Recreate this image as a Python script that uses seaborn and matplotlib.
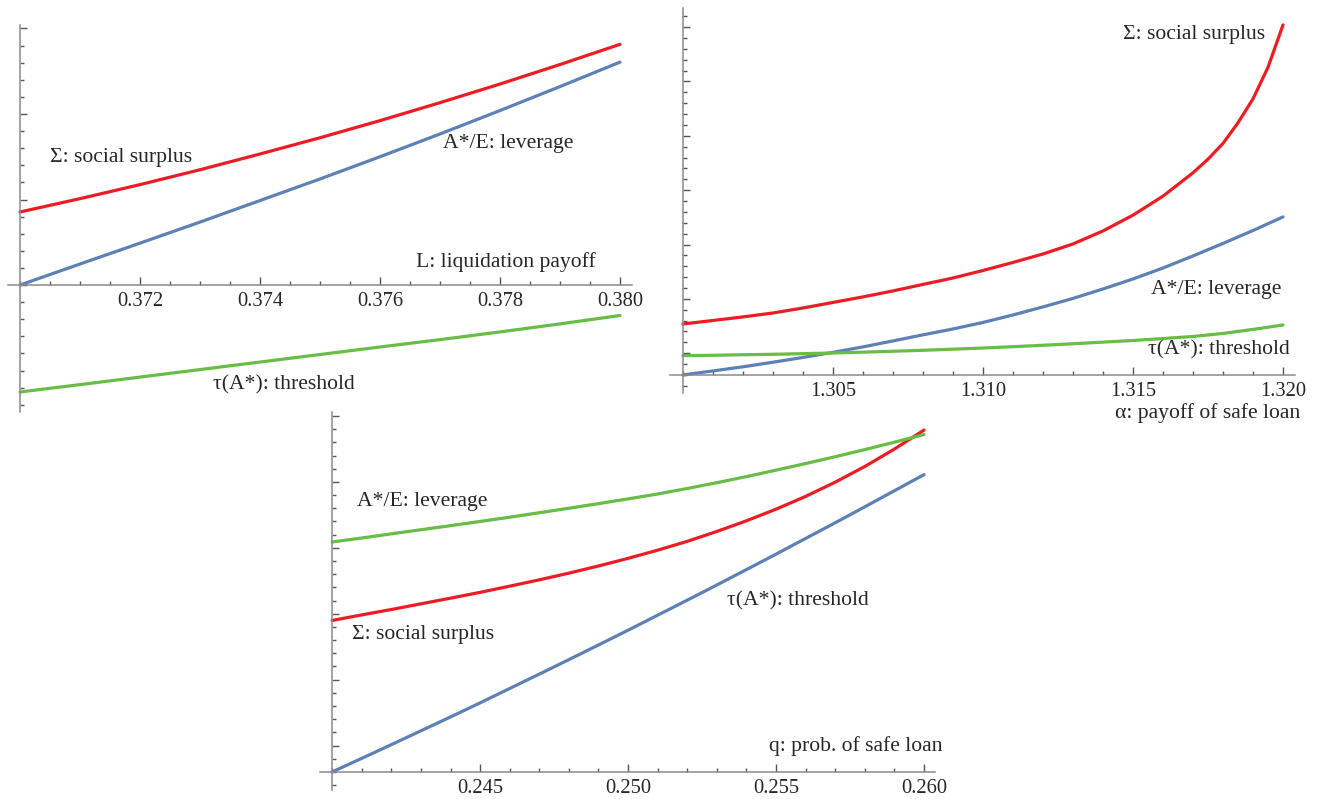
import numpy as np
import pandas as pd
import seaborn as sns
import matplotlib.pyplot as plt
from matplotlib.ticker import FixedLocator, FormatStrFormatter, MultipleLocator

# ----------- Data (y in units of one minor tick, axis crossing = 0) ---------------------

# panel 1: L, liquidation payoff
liq_x = [0.370, 0.371, 0.372, 0.373, 0.374, 0.375, 0.376, 0.377, 0.378, 0.379, 0.380]
liq_surplus = [4.27, 5.05, 5.87, 6.74, 7.66, 8.61, 9.61, 10.66, 11.75, 12.89, 14.07]
liq_leverage = [0.00, 1.23, 2.45, 3.68, 4.94, 6.20, 7.50, 8.83, 10.20, 11.60, 13.03]
liq_threshold = [-6.25, -5.82, -5.38, -4.94, -4.50, -4.06, -3.62, -3.19, -2.74, -2.27, -1.78]

# panel 2: alpha, payoff of safe loan
alpha_x = [1.300, 1.301, 1.302, 1.303, 1.304, 1.305, 1.306, 1.307, 1.308, 1.309, 1.310,
           1.311, 1.312, 1.313, 1.314, 1.315, 1.316, 1.317, 1.318, 1.319, 1.320]
alpha_leverage = [0.00, 0.37, 0.75, 1.17, 1.61, 2.08, 2.58, 3.13, 3.69, 4.23, 4.83,
                  5.52, 6.26, 7.04, 7.91, 8.83, 9.84, 10.95, 12.10, 13.29, 14.54]
alpha_threshold = [1.78, 1.81, 1.86, 1.90, 1.96, 2.02, 2.10, 2.18, 2.27, 2.37, 2.48,
                   2.60, 2.73, 2.87, 3.02, 3.17, 3.35, 3.54, 3.82, 4.19, 4.60]
# surplus blows up near 1.320, read at finer steps there
alpha_x_surplus = [1.300, 1.301, 1.302, 1.303, 1.304, 1.305, 1.306, 1.307, 1.308, 1.309, 1.310,
                   1.311, 1.312, 1.313, 1.314, 1.315, 1.316, 1.317, 1.3175, 1.318, 1.3185,
                   1.319, 1.3195, 1.320]
alpha_surplus = [4.69, 5.01, 5.34, 5.70, 6.16, 6.67, 7.18, 7.73, 8.33, 8.92, 9.61,
                 10.35, 11.13, 12.05, 13.25, 14.70, 16.45, 18.60, 19.85, 21.30, 23.20,
                 25.40, 28.30, 32.20]

# panel 3: q, prob. of safe loan
q_x = [0.240, 0.241, 0.242, 0.243, 0.244, 0.245, 0.246, 0.247, 0.248, 0.249, 0.250,
       0.251, 0.252, 0.253, 0.254, 0.255, 0.256, 0.257, 0.258, 0.259, 0.260]
q_blue = [0.00, 1.03, 2.07, 3.12, 4.17, 5.24, 6.33, 7.42, 8.52, 9.63, 10.75,
          11.89, 13.03, 14.18, 15.35, 16.52, 17.71, 18.90, 20.11, 21.33, 22.55]
q_red = [11.49, 11.91, 12.32, 12.75, 13.18, 13.62, 14.09, 14.57, 15.08, 15.62, 16.20,
         16.82, 17.49, 18.24, 19.05, 19.93, 20.90, 21.98, 23.17, 24.49, 25.93]
q_green = [17.44, 17.74, 18.06, 18.37, 18.68, 19.00, 19.32, 19.66, 20.00, 20.35, 20.71,
           21.08, 21.50, 21.94, 22.40, 22.89, 23.39, 23.91, 24.45, 25.01, 25.59]

RED = '#ec1c24'
BLUE = '#5e81b5'
GREEN = '#67bd45'

sns.set_style('white')
plt.rcParams['font.family'] = ['Liberation Serif', 'DejaVu Serif']

W, H = 1333, 799
fig = plt.figure(figsize=(W / 100, H / 100), dpi=100)


def make_axes(left, top, right, bottom):
    # pixel box -> figure fraction
    return fig.add_axes([left / W, 1 - bottom / H, (right - left) / W, (bottom - top) / H])


def style_axes(ax, x0, xlim, ylim, xmajor, xminor, ymajor, yminor):
    ax.set_xlim(*xlim)
    ax.set_ylim(*ylim)
    ax.spines['left'].set_position(('data', x0))
    ax.spines['bottom'].set_position(('data', 0))
    for s in ['top', 'right']:
        ax.spines[s].set_visible(False)
    for s in ['left', 'bottom']:
        ax.spines[s].set_color('#8a8a8a')
        ax.spines[s].set_linewidth(1.1)
    ax.xaxis.set_major_locator(FixedLocator(xmajor))
    ax.xaxis.set_minor_locator(MultipleLocator(xminor))
    ax.xaxis.set_major_formatter(FormatStrFormatter('%.3f'))
    ax.yaxis.set_major_locator(FixedLocator(ymajor))
    ax.yaxis.set_minor_locator(FixedLocator(yminor))
    ax.set_yticklabels([])
    ax.tick_params(axis='both', which='both', direction='in', color='#555555', width=1.0,
                   bottom=True, left=True, top=False, right=False)
    ax.tick_params(axis='x', which='major', length=5.5, labelsize=14.8, pad=5)
    ax.tick_params(axis='x', which='minor', length=3)
    ax.tick_params(axis='y', which='major', length=5)
    ax.tick_params(axis='y', which='minor', length=3)
    ax.set_xlabel('')
    ax.set_ylabel('')
    ax.patch.set_alpha(0)


def draw(ax, series):
    for x, y, color in series:
        df = pd.DataFrame({'x': x, 'y': y})
        sns.lineplot(data=df, x='x', y='y', color=color, linewidth=2.3, sort=False,
                     estimator=None, ax=ax)


fs = 15.6

# ----------- Panel 1 ---------------------
ax1 = make_axes(8, 25, 632, 412)
draw(ax1, [(liq_x, liq_leverage, BLUE), (liq_x, liq_surplus, RED), (liq_x, liq_threshold, GREEN)])
style_axes(ax1, 0.370, (0.3698, 0.3802), (-7.42, 15.2),
           [0.372, 0.374, 0.376, 0.378, 0.380], 0.0005,
           [0, 5, 10, 15], list(range(-7, 16)))
ax1.text(0.3705, 7.48, 'Σ: social surplus', fontsize=fs, va='center', ha='left')
ax1.text(0.37705, 8.30, 'A*/E: leverage', fontsize=fs, va='center', ha='left')
ax1.text(0.3766, 1.34, 'L: liquidation payoff', fontsize=fs, va='center', ha='left')
ax1.text(0.37322, -5.84, 'τ(A*): threshold', fontsize=fs, va='center', ha='left')

# ----------- Panel 2 ---------------------
ax2 = make_axes(670, 8, 1295, 393)
draw(ax2, [(alpha_x, alpha_leverage, BLUE), (alpha_x_surplus, alpha_surplus, RED),
           (alpha_x, alpha_threshold, GREEN)])
style_axes(ax2, 1.300, (1.29957, 1.3204), (-1.66, 33.76),
           [1.305, 1.310, 1.315, 1.320], 0.001,
           [2, 7, 12, 17, 22, 27, 32], list(range(-1, 34)))
ax2.text(1.3194, 31.28, 'Σ: social surplus', fontsize=fs, va='center', ha='right')
ax2.text(1.31993, 7.82, 'A*/E: leverage', fontsize=fs, va='center', ha='right')
ax2.text(1.32023, 2.30, 'τ(A*): threshold', fontsize=fs, va='center', ha='right')
ax2.text(1.32057, -3.50, 'α: payoff of safe loan', fontsize=fs, va='center', ha='right')

# ----------- Panel 3 ---------------------
ax3 = make_axes(320, 412, 935, 790)
draw(ax3, [(q_x, q_blue, BLUE), (q_x, q_red, RED), (q_x, q_green, GREEN)])
style_axes(ax3, 0.240, (0.23959, 0.26037), (-1.37, 27.3),
           [0.245, 0.250, 0.255, 0.260], 0.001,
           [2, 7, 12, 17, 22, 27], list(range(-1, 28)))
ax3.text(0.24084, 20.50, 'A*/E: leverage', fontsize=fs, va='center', ha='left')
ax3.text(0.24068, 10.40, 'Σ: social surplus', fontsize=fs, va='center', ha='left')
ax3.text(0.25334, 12.98, 'τ(A*): threshold', fontsize=fs, va='center', ha='left')
ax3.text(0.26061, 1.97, 'q: prob. of safe loan', fontsize=fs, va='center', ha='right')

fig.savefig('out.png', dpi=100)
